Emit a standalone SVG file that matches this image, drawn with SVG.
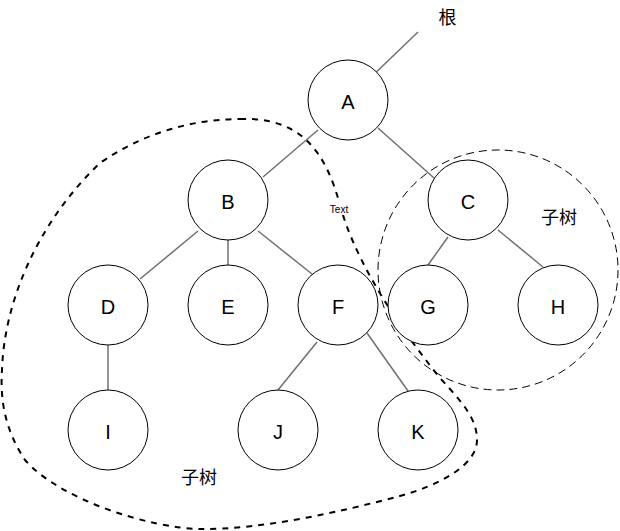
<svg xmlns="http://www.w3.org/2000/svg" width="620" height="531" viewBox="0 0 620 531">
<style>
.node circle{fill:#fff;stroke:#000;stroke-width:1}
.node text{font-family:"Liberation Sans",Arial,sans-serif;font-size:20px;fill:#000;text-anchor:middle}
.edge{stroke:#707070;stroke-width:1.5;fill:none}
.cjk{font-family:"Noto Sans CJK SC","Liberation Sans",sans-serif;font-size:18px;fill:#000;text-anchor:middle}
.small{font-family:"Liberation Sans",Arial,sans-serif;font-size:10px;fill:#000;text-anchor:middle}
</style>
<rect width="620" height="531" fill="#fff"/>
<g id="connectors">
<line class="edge" x1="418" y1="32" x2="368" y2="80"/>
<line class="edge" x1="318" y1="130" x2="263" y2="177"/>
<line class="edge" x1="378" y1="128" x2="434" y2="178"/>
<line class="edge" x1="198" y1="231" x2="140" y2="279"/>
<line class="edge" x1="228" y1="240" x2="228" y2="265"/>
<line class="edge" x1="258" y1="231" x2="312" y2="274"/>
<line class="edge" x1="108" y1="345" x2="108" y2="390"/>
<line class="edge" x1="317" y1="342" x2="278" y2="390"/>
<line class="edge" x1="367" y1="333" x2="408" y2="391"/>
<line class="edge" x1="448" y1="237" x2="428" y2="265"/>
<line class="edge" x1="498" y1="230" x2="543" y2="267"/>
</g>
<g id="subtree-right">
<circle cx="498" cy="270" r="120" fill="none" stroke="#000" stroke-width="1" stroke-dasharray="8 5"/>
<text class="cjk" x="559" y="223.5">子树</text>
</g>
<g id="subtree-left">
<path d="M240 119 C300 117 325 150 340 205 C352 250 385 310 440 378 C465 405 477 420 477 440 C477 465 440 485 400 496 C340 512 260 530 200 529 C150 528 60 500 25 460 C5 430 0 400 2 370 C4 305 35 225 100 163 C140 135 190 119 240 119 Z" fill="none" stroke="#000" stroke-width="2" stroke-dasharray="6 6"/>
<rect x="328" y="203" width="22" height="12" fill="#fff"/>
<text class="small" x="339" y="213">Text</text>
<text class="cjk" x="199" y="483.5">子树</text>
</g>
<g id="root-label">
<text class="cjk" x="447.5" y="24">根</text>
</g>
<g id="node-A" class="node"><circle cx="348" cy="100" r="40"/><text x="348" y="109">A</text></g>
<g id="node-B" class="node"><circle cx="228" cy="200" r="40"/><text x="228" y="209">B</text></g>
<g id="node-C" class="node"><circle cx="468" cy="200" r="40"/><text x="468" y="209">C</text></g>
<g id="node-D" class="node"><circle cx="108" cy="305" r="40"/><text x="108" y="314">D</text></g>
<g id="node-E" class="node"><circle cx="228" cy="305" r="40"/><text x="228" y="314">E</text></g>
<g id="node-F" class="node"><circle cx="338" cy="305" r="40"/><text x="338" y="314">F</text></g>
<g id="node-G" class="node"><circle cx="428" cy="305" r="40"/><text x="428" y="314">G</text></g>
<g id="node-H" class="node"><circle cx="558" cy="305" r="40"/><text x="558" y="314">H</text></g>
<g id="node-I" class="node"><circle cx="108" cy="430" r="40"/><text x="108" y="439">I</text></g>
<g id="node-J" class="node"><circle cx="278" cy="430" r="40"/><text x="278" y="439">J</text></g>
<g id="node-K" class="node"><circle cx="418" cy="430" r="40"/><text x="418" y="439">K</text></g>
</svg>
